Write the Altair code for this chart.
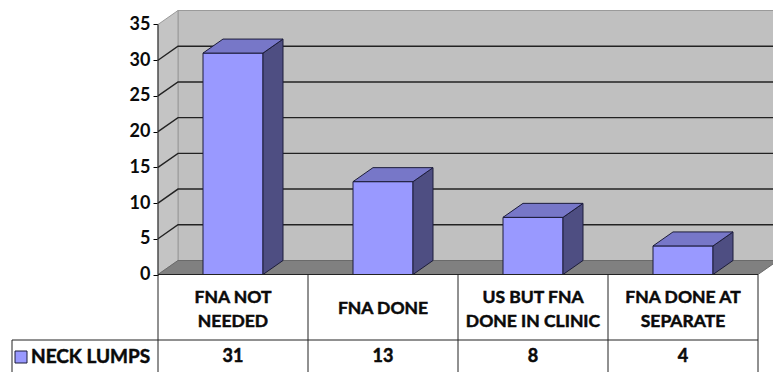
import altair as alt
import pandas as pd

# ---------------- data ----------------
categories = ["FNA NOT\nNEEDED", "FNA DONE", "US BUT FNA\nDONE IN CLINIC", "FNA DONE AT\nSEPARATE"]
values = [31, 13, 8, 4]
series_name = "NECK LUMPS"
y_ticks = [0, 5, 10, 15, 20, 25, 30, 35]

# ---------------- layout / style ----------------
PX_PER_UNIT_Y = 250 / 35.0      # pixels per value unit
ZERO_PX = 274.5                  # pixel row of value 0
H = 372
SLOT_PX = 150.0
LEFT_PX = 158
W = 773 - LEFT_PX
XMAX = W / SLOT_PX
YTOP = ZERO_PX / PX_PER_UNIT_Y
YBOT = -(H - ZERO_PX) / PX_PER_UNIT_Y
DX = 20 / SLOT_PX               # depth offset in x units
DY = 14 / PX_PER_UNIT_Y         # depth offset in y units
YMAX = max(y_ticks)
N = len(categories)


def py(p):
    """pixel row -> value units (for table layout)"""
    return (ZERO_PX - p) / PX_PER_UNIT_Y


def px(p):
    return (p - LEFT_PX) / SLOT_PX


FRONT = "#9999FF"
TOP = "#7777C8"
SIDE = "#4E4E82"
EDGE = "#1C1C3A"
WALL = "#C0C0C0"
FLOOR = "#808080"
FONT = "Lato"
TXT = "#0A0A0A"
TXT_STYLE = dict(font=FONT, fontWeight="bold", color=TXT, stroke=TXT, strokeWidth=0.5)

xs = alt.Scale(domain=[0, XMAX], nice=False, zero=False)
ys = alt.Scale(domain=[YBOT, YTOP], nice=False, zero=False)
yaxis = alt.Axis(values=y_ticks, title=None, domain=False, grid=False, tickSize=5,
                 tickColor="#000000", tickWidth=1, labelFont=FONT, labelFontSize=18,
                 labelFontWeight="bold", labelColor=TXT, labelPadding=3)


def X(f="x"):
    return alt.X(f"{f}:Q", scale=xs, axis=None)


def Y(f="y"):
    return alt.Y(f"{f}:Q", scale=ys, axis=yaxis)


# ---------------- walls & floor ----------------
back_wall = alt.Chart(pd.DataFrame({"x": [DX], "x2": [XMAX + 0.2], "y": [DY], "y2": [YMAX + DY]})).mark_rect(
    color=WALL, stroke="#9A9A9A", strokeWidth=1).encode(x=X(), x2="x2:Q", y=Y(), y2="y2:Q")

left_wall = alt.Chart(pd.DataFrame({"x": [0, DX], "y": [0, DY], "y2": [YMAX, YMAX + DY]})).mark_area(
    color="#C4C4C4", stroke="#9A9A9A", strokeWidth=1).encode(x=X(), y=Y(), y2="y2:Q")

floor = alt.Chart(pd.DataFrame({"y": [0, DY], "x": [0, DX], "x2": [N, N + DX]})).mark_area(
    orient="horizontal", color=FLOOR, stroke="#6A6A6A", strokeWidth=1).encode(y=Y(), x=X(), x2="x2:Q")

grid_rows = []
for t in y_ticks[1:-1]:
    grid_rows += [{"t": t, "o": 0, "x": 0, "y": t},
                  {"t": t, "o": 1, "x": DX, "y": t + DY},
                  {"t": t, "o": 2, "x": XMAX + 0.2, "y": t + DY}]
grid = alt.Chart(pd.DataFrame(grid_rows)).mark_line(color="#222222", strokeWidth=1.4).encode(
    x=X(), y=Y(), detail="t:N", order="o:Q")

# ---------------- 3D bars ----------------
df = pd.DataFrame({"i": range(N), "cat": categories, "v": values})
front_df = pd.DataFrame({"x": df.i + 0.3, "x2": df.i + 0.7, "y": 0, "y2": df.v})
front = alt.Chart(front_df).mark_rect(color=FRONT, stroke=EDGE, strokeWidth=1).encode(
    x=X(), x2="x2:Q", y=Y(), y2="y2:Q")

side_rows, top_rows = [], []
for i, v in enumerate(values):
    side_rows += [{"b": i, "x": i + 0.7, "y": 0, "y2": v},
                  {"b": i, "x": i + 0.7 + DX, "y": DY, "y2": v + DY}]
    top_rows += [{"b": i, "y": v, "x": i + 0.3, "x2": i + 0.7},
                 {"b": i, "y": v + DY, "x": i + 0.3 + DX, "x2": i + 0.7 + DX}]
side = alt.Chart(pd.DataFrame(side_rows)).mark_area(color=SIDE, stroke=EDGE, strokeWidth=1).encode(
    x=X(), y=Y(), y2="y2:Q", detail="b:N")
top = alt.Chart(pd.DataFrame(top_rows)).mark_area(orient="horizontal", color=TOP, stroke=EDGE, strokeWidth=1).encode(
    y=Y(), x=X(), x2="x2:Q", detail="b:N")

# ---------------- data table ----------------
ROW_LINE = py(340)
LEFT_EDGE = px(12)
vlines = pd.DataFrame({"x": [0] + list(range(1, N + 1)), "y": [YMAX] + [0] * N, "y2": [YBOT] * (N + 1)})
vrule = alt.Chart(vlines).mark_rule(color="#222222", strokeWidth=1).encode(x=X(), y=Y(), y2="y2:Q")
hlines = pd.DataFrame({"x": [0, LEFT_EDGE], "x2": [N, N], "y": [0, ROW_LINE]})
hrule = alt.Chart(hlines).mark_rule(color="#222222", strokeWidth=1).encode(x=X(), x2="x2:Q", y=Y())
ledge = alt.Chart(pd.DataFrame({"x": [LEFT_EDGE], "y": [ROW_LINE], "y2": [YBOT]})).mark_rule(
    color="#222222", strokeWidth=1).encode(x=X(), y=Y(), y2="y2:Q")

head_y = [py(298) if "\n" in c else py(309) for c in categories]
head_df = pd.DataFrame({"x": df.i + 0.5, "y": head_y, "t": df.cat})
heads = alt.Chart(head_df).mark_text(fontSize=17.5, lineBreak="\n", lineHeight=24, baseline="middle",
                                     align="center", **TXT_STYLE).encode(x=X(), y=Y(), text="t:N")

val_df = pd.DataFrame({"x": df.i + 0.5, "y": py(357), "t": [str(v) for v in values]})
vals = alt.Chart(val_df).mark_text(fontSize=18, baseline="middle", align="center", **TXT_STYLE).encode(
    x=X(), y=Y(), text="t:N")

leg_box = alt.Chart(pd.DataFrame({"x": [px(21)], "y": [py(357)]})).mark_square(
    size=144, filled=True, color=FRONT, stroke=EDGE, strokeWidth=1, opacity=1).encode(x=X(), y=Y())
leg_txt = alt.Chart(pd.DataFrame({"x": [px(31)], "y": [py(357)], "t": [series_name]})).mark_text(
    fontSize=19, baseline="middle", align="left", **TXT_STYLE).encode(x=X(), y=Y(), text="t:N")

chart = alt.layer(back_wall, left_wall, floor, grid, front, side, top,
                  vrule, hrule, ledge, heads, vals, leg_box, leg_txt).properties(
    width=W, height=H,
    autosize=alt.AutoSizeParams(type="none"),
    padding={"left": LEFT_PX, "top": 0, "right": 0, "bottom": 0},
    background="#FFFFFF",
).configure_view(strokeWidth=0)

chart.save("out.html", embed_options={"renderer": "svg", "actions": False})
